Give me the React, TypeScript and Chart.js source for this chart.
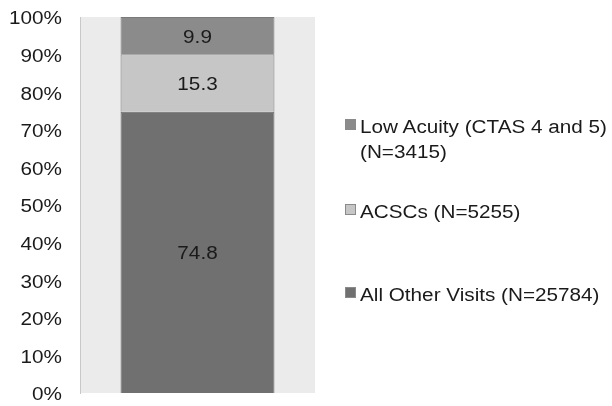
import React, { useEffect, useRef } from "react";
import { Chart, registerables } from "chart.js";

Chart.register(...registerables);

const categories = [""];
const seriesLabels = ["All Other Visits (N=25784)", "ACSCs (N=5255)", "Low Acuity (CTAS 4 and 5) (N=3415)"];
const allOther = [74.8];
const acscs = [15.3];
const lowAcuity = [9.9];
const yTicks = [0, 10, 20, 30, 40, 50, 60, 70, 80, 90, 100];

const FONT = "'Liberation Sans', Arial, sans-serif";
const STRETCH = 1.15;

const bgPlugin = {
  id: "plotBg",
  beforeDraw(chart: any) {
    const { ctx, chartArea } = chart;
    ctx.save();
    ctx.fillStyle = "#ebebeb";
    ctx.fillRect(chartArea.left, chartArea.top, chartArea.right - chartArea.left, chartArea.bottom - chartArea.top);
    ctx.restore();
  },
};

const tickLabels = {
  id: "tickLabels",
  afterDraw(chart: any) {
    const { ctx } = chart;
    const y = chart.scales.y;
    ctx.save();
    ctx.font = `18px ${FONT}`;
    ctx.fillStyle = "#1a1a1a";
    ctx.textAlign = "right";
    ctx.textBaseline = "middle";
    yTicks.forEach((v) => {
      const py = y.getPixelForValue(v) + 2.5;
      ctx.save();
      ctx.translate(y.right - 18, py);
      ctx.scale(STRETCH, 1);
      ctx.fillText(`${v}%`, 0, 0);
      ctx.restore();
    });
    ctx.restore();
  },
};

const valueLabels = {
  id: "valueLabels",
  afterDatasetsDraw(chart: any) {
    const { ctx } = chart;
    ctx.save();
    ctx.font = `18px ${FONT}`;
    ctx.fillStyle = "#1a1a1a";
    ctx.textAlign = "center";
    ctx.textBaseline = "middle";
    chart.data.datasets.forEach((ds: any, i: number) => {
      const meta = chart.getDatasetMeta(i);
      meta.data.forEach((el: any, j: number) => {
        const v = ds.data[j];
        const y = (el.y + el.base) / 2;
        ctx.save();
        ctx.translate(el.x, y + 2);
        ctx.scale(STRETCH, 1);
        ctx.fillText(String(v), 0, 0);
        ctx.restore();
      });
    });
    ctx.restore();
  },
};

export default function App() {
  const ref = useRef<HTMLCanvasElement | null>(null);
  useEffect(() => {
    if (!ref.current) return;
    const chart = new Chart(ref.current, {
      type: "bar",
      data: {
        labels: categories,
        datasets: [
          { label: seriesLabels[0], data: allOther, backgroundColor: "#707070", borderColor: "#6a6a6a", borderWidth: 1 },
          { label: seriesLabels[1], data: acscs, backgroundColor: "#c6c6c6", borderColor: "#7a7a7a", borderWidth: 1 },
          { label: seriesLabels[2], data: lowAcuity, backgroundColor: "#8b8b8b", borderColor: "#7a7a7a", borderWidth: 1 },
        ],
      },
      options: {
        animation: false,
        responsive: false,
        devicePixelRatio: 1,
        layout: { padding: { left: 0, right: 297, top: 17, bottom: 13 } },
        datasets: { bar: { barPercentage: 0.655, categoryPercentage: 1 } },
        plugins: { legend: { display: false }, tooltip: { enabled: false } },
        scales: {
          x: { stacked: true, display: false },
          y: {
            stacked: true,
            min: 0,
            max: 100,
            afterBuildTicks(scale: any) {
              scale.ticks = yTicks.map((v) => ({ value: v }));
            },
            afterFit(scale: any) {
              scale.width = 80;
            },
            ticks: { display: false },
            grid: { display: false, drawTicks: false },
            border: { display: true, color: "#c8c8c8", width: 1 },
          },
        },
      },
      plugins: [bgPlugin, valueLabels, tickLabels],
    });
    return () => chart.destroy();
  }, []);

  const legendItems = [
    { lines: ["Low Acuity (CTAS 4 and 5)", "(N=3415)"], color: "#8b8b8b", top: 115 },
    { lines: ["ACSCs (N=5255)"], color: "#c6c6c6", top: 200 },
    { lines: ["All Other Visits (N=25784)"], color: "#707070", top: 283 },
  ];

  return (
    <div style={{ position: "fixed", left: 0, top: 0, width: 612, height: 406, background: "#fff" }}>
      <canvas ref={ref} width={612} height={406} style={{ position: "absolute", left: 0, top: 0 }} />
      {legendItems.map((it, i) => (
        <div key={i} style={{ position: "absolute", left: 345, top: it.top, fontFamily: FONT, fontSize: 18, color: "#1a1a1a", lineHeight: "25px" }}>
          <span style={{ position: "absolute", left: 0, top: 4, width: 11, height: 11, background: it.color, border: "1px solid #8a8a8a", boxSizing: "border-box" }} />
          {it.lines.map((l, k) => (
            <div key={k} style={{ marginLeft: 15, whiteSpace: "nowrap", transform: `scaleX(${STRETCH})`, transformOrigin: "left center" }}>{l}</div>
          ))}
        </div>
      ))}
    </div>
  );
}
